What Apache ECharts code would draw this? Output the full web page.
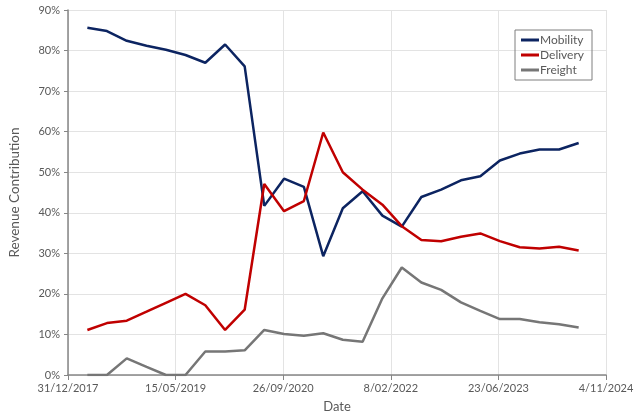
<!DOCTYPE html>
<html>
<head>
<meta charset="utf-8">
<style>
  html, body { margin: 0; padding: 0; background: #fff; }
  #main { width: 640px; height: 418px; }
</style>
<script src="https://cdn.jsdelivr.net/npm/echarts@6/dist/echarts.min.js"></script>
</head>
<body>
<div id="main"></div>
<script>
// quarter ends, Q1 2018 .. Q2 2024
var quarters = [
  '2018-03-31', '2018-06-30', '2018-09-30', '2018-12-31',
  '2019-03-31', '2019-06-30', '2019-09-30', '2019-12-31',
  '2020-03-31', '2020-06-30', '2020-09-30', '2020-12-31',
  '2021-03-31', '2021-06-30', '2021-09-30', '2021-12-31',
  '2022-03-31', '2022-06-30', '2022-09-30', '2022-12-31',
  '2023-03-31', '2023-06-30', '2023-09-30', '2023-12-31',
  '2024-03-31', '2024-06-30'
];
var mobility = [85.6, 84.8, 82.4, 81.2, 80.2, 78.9, 77.0, 81.5, 76.1, 41.7, 48.4, 46.4, 29.3,
  41.1, 45.3, 39.3, 36.6, 43.9, 45.7, 48.0, 49.0, 52.9, 54.6, 55.6, 55.6, 57.2];
var delivery = [11.1, 12.8, 13.4, 15.6, 17.8, 20.0, 17.2, 11.1, 16.1, 47.1, 40.4, 42.9, 59.8,
  50.0, 45.7, 42.0, 36.7, 33.3, 33.0, 34.1, 34.9, 33.0, 31.5, 31.2, 31.6, 30.7];
var freight = [0, 0, 4.1, 2.0, 0, 0, 5.8, 5.8, 6.1, 11.1, 10.1, 9.7, 10.3,
  8.7, 8.2, 18.9, 26.5, 22.8, 21.0, 17.9, 15.8, 13.8, 13.8, 13.0, 12.5, 11.7];

// x axis runs in days from 31/12/2017, ticks every 500 days up to 4/11/2024
var origin = Date.UTC(2017, 11, 31);
var DAY = 86400000;
function dayOf(s) {
  var p = s.split('-');
  return (Date.UTC(+p[0], +p[1] - 1, +p[2]) - origin) / DAY;
}
function pairs(vals) {
  return quarters.map(function (q, i) { return [dayOf(q), vals[i]]; });
}
function fmtDay(v) {
  var d = new Date(origin + v * DAY);
  var m = d.getUTCMonth() + 1;
  return d.getUTCDate() + '/' + (m < 10 ? '0' + m : m) + '/' + d.getUTCFullYear();
}

var font = 'Lato, "Open Sans", sans-serif';
var labelColor = '#595959';
var axisColor = '#868686';
var gridColor = '#e3e3e3';

var myChart = echarts.init(document.getElementById('main'));
myChart.setOption({
  animation: false,
  textStyle: { fontFamily: font },
  grid: { left: 65, right: 34, top: 10, bottom: 42 },
  legend: {
    orient: 'vertical',
    left: 515,
    top: 30,
    padding: [4, 8, 4, 6],
    itemGap: 3,
    itemWidth: 18,
    itemHeight: 3,
    icon: 'rect',
    borderColor: '#7f7f7f',
    borderWidth: 1,
    textStyle: { color: labelColor, fontSize: 12, padding: [0, 0, 0, -4] },
    data: ['Mobility', 'Delivery', 'Freight']
  },
  xAxis: {
    type: 'value',
    min: 0,
    max: 2500,
    interval: 500,
    name: 'Date',
    nameLocation: 'middle',
    nameGap: 25,
    nameTextStyle: { color: labelColor, fontSize: 13 },
    axisLine: { lineStyle: { color: axisColor, width: 1.5 } },
    axisTick: { show: true, length: 5, lineStyle: { color: axisColor } },
    axisLabel: { color: labelColor, fontSize: 11, margin: 8, formatter: fmtDay },
    splitLine: { show: true, lineStyle: { color: gridColor } }
  },
  yAxis: {
    type: 'value',
    min: 0,
    max: 90,
    interval: 10,
    name: 'Revenue Contribution',
    nameLocation: 'middle',
    nameGap: 46,
    nameTextStyle: { color: labelColor, fontSize: 13.5 },
    axisLine: { show: true, lineStyle: { color: axisColor, width: 1.5 } },
    axisTick: { show: true, length: 4, lineStyle: { color: axisColor } },
    axisLabel: { color: labelColor, fontSize: 11, margin: 8, formatter: '{value}%' },
    splitLine: { show: true, lineStyle: { color: gridColor } }
  },
  series: [{
    name: 'Mobility',
    type: 'line',
    showSymbol: false,
    color: '#0c2461',
    lineStyle: { width: 2.5 },
    data: pairs(mobility)
  }, {
    name: 'Delivery',
    type: 'line',
    showSymbol: false,
    color: '#c00000',
    lineStyle: { width: 2.5 },
    data: pairs(delivery)
  }, {
    name: 'Freight',
    type: 'line',
    showSymbol: false,
    color: '#767676',
    lineStyle: { width: 2.5 },
    data: pairs(freight)
  }]
});
</script>
</body>
</html>
